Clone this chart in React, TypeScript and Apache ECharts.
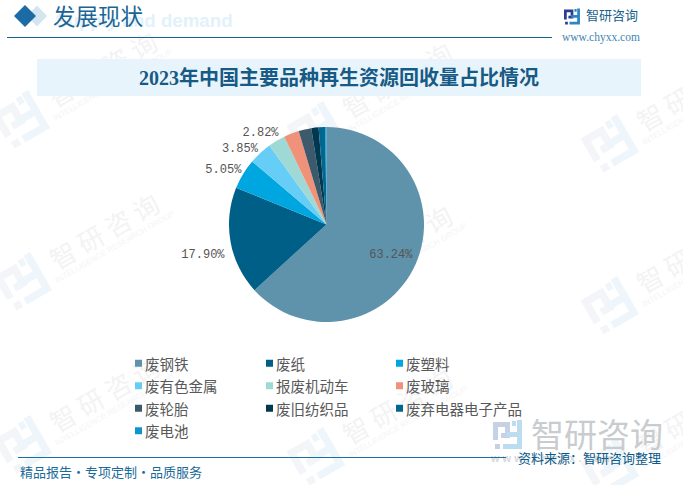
import React, { useEffect, useRef } from "react";
import * as echarts from "echarts";

const categories = ["废钢铁", "废纸", "废塑料", "废有色金属", "报废机动车", "废玻璃", "废轮胎", "废旧纺织品", "废弃电器电子产品", "废电池"];
const values = [63.24, 17.9, 5.05, 3.85, 2.82, 2.54, 2.1, 1.2, 1.1, 0.2];
const colors = ["#5f92ab", "#005f87", "#00a6df", "#66cdf7", "#9fd9d6", "#ef9279", "#3c5a6b", "#003850", "#00688f", "#0f95cc"];
const labelled = [true, true, true, true, true, false, false, false, false, false];
const legendColumns = [
  ["废钢铁", "废有色金属", "废轮胎", "废电池"],
  ["废纸", "报废机动车", "废旧纺织品"],
  ["废塑料", "废玻璃", "废弃电器电子产品"],
];
const legendLefts = [135, 266, 396];
const title = "2023年中国主要品种再生资源回收量占比情况";

echarts.graphic.registerShape("logoL", echarts.graphic.extendPath(
  "M0 2H17V18H8V13H12V7H5V20H0ZM2 24H7V29H2Z", {}));
echarts.graphic.registerShape("logoR", echarts.graphic.extendPath(
  "M24 0H29V29H10V24H24ZM13 12H24V17H13ZM19 1H23V6H19Z", {}));

function logo(x: number, y: number, s: number, cl: string, cr: string, z: number): any {
  return {
    type: "group", x, y, silent: true,
    children: [
      { type: "logoL", scaleX: s, scaleY: s, z, style: { fill: cl } },
      { type: "logoR", scaleX: s, scaleY: s, z, style: { fill: cr } },
    ],
  };
}

function watermark(cx: number, cy: number): any {
  const z = -10;
  return {
    type: "group", x: cx, y: cy, rotation: Math.PI / 6, silent: true,
    children: [
      logo(-22, -22, 1.52, "#f3f5f8", "#eef6fb", z),
      { type: "text", x: 36, y: -17, z, style: { text: "智 研 咨 询", font: "26px 'Noto Sans CJK SC'", fill: "#f3f3f4", textVerticalAlign: "top" } },
      { type: "text", x: 30, y: 12, z, style: { text: "INTELLIGENCE RESEARCH GROUP", font: "8px 'Liberation Sans'", fill: "#f4f5f6", textVerticalAlign: "top" } },
    ],
  };
}

const marks: any[] = [];
[[20, 120], [22, 282], [22, 445], [315, 131], [315, 294], [315, 457], [609, 144], [609, 306], [609, 468]].forEach(([x, y]) => marks.push(watermark(x, y)));

const labelShift: Record<number, { dx: number; dy: number }> = {
  0: { dx: 17, dy: 10 },
  1: { dx: 1, dy: 13 },
  2: { dx: 5, dy: -3 },
  3: { dx: 4, dy: -2 },
  4: { dx: 8, dy: -6 },
};

export default function App() {
  const ref = useRef<HTMLDivElement>(null);
  useEffect(() => {
    const chart = echarts.init(ref.current!, undefined, { renderer: "svg" });
    const legendBase = {
      orient: "vertical" as const, top: 356, itemWidth: 7, itemHeight: 7, itemGap: 8, icon: "rect",
      selectedMode: false, textStyle: { fontSize: 14.5, color: "#595959", fontFamily: "'Noto Sans CJK SC'", padding: [0, 0, 0, -2] },
      padding: 0,
    };
    chart.setOption({
      animation: false,
      backgroundColor: "#ffffff",
      color: colors,
      legend: legendColumns.map((data, i) => ({ ...legendBase, left: legendLefts[i], data })),
      series: [{
        type: "pie",
        center: [326.5, 224.5],
        radius: [0, 97.5],
        startAngle: 90,
        clockwise: true,
        avoidLabelOverlap: false,
        label: {
          show: true, position: "outside", fontSize: 12, color: "#555555",
          fontFamily: "'Liberation Mono'",
          formatter: (p: any) => p.value.toFixed(2) + "%",
        },
        labelLine: { show: false, length: 2, length2: 0 },
        data: categories.map((name, i) => ({
          name, value: values[i],
          label: i === 0 ? { show: true, position: "inside" } : { show: labelled[i] },
        })),
        labelLayout: (p: any) => labelShift[p.dataIndex] || {},
      }],
      graphic: [
        ...marks,
        { type: "text", x: 55, y: 11, z: 1, silent: true, style: { text: "Supply and demand", font: "bold 18.7px 'Liberation Sans'", fill: "#e3f1fb" } },
        { type: "polygon", z: 2, shape: { points: [[37, 5.5], [47, 16], [37, 26.5], [27, 16]] }, style: { fill: "#d3e5ef" } },
        { type: "polygon", z: 3, shape: { points: [[25, 5], [36, 16], [25, 27], [14, 16]] }, style: { fill: "#1a6ba6" } },
        { type: "text", x: 53, y: 4, z: 4, style: { text: "发展现状", font: "22.5px 'Noto Sans CJK SC'", fill: "#1a6595" } },
        { type: "line", z: 2, shape: { x1: 7, y1: 37.5, x2: 552, y2: 37.5 }, style: { stroke: "#1b6390", lineWidth: 1 } },
        logo(564, 8.5, 0.55, "#2a3f8f", "#2b86c5", 3),
        { type: "text", x: 586, y: 8, z: 3, style: { text: "智研咨询", font: "13px 'Noto Sans CJK SC'", fill: "#1a5f8c" } },
        { type: "text", x: 562, y: 31, z: 3, style: { text: "www.chyxx.com", font: "11.5px 'Liberation Serif'", fill: "#3f86b4" } },
        { type: "rect", z: 1, shape: { x: 37, y: 59, width: 604, height: 37 }, style: { fill: "#e8f4fb" } },
        { type: "text", x: 339, y: 78, z: 2, style: { text: title, font: "bold 20px 'Liberation Serif','Noto Sans CJK SC'", fill: "#175a85", textAlign: "center", textVerticalAlign: "middle" } },
        logo(493, 420, 1, "#c6d1e4", "#bcdcf0", 1),
        { type: "text", x: 531, y: 416, z: 1, style: { text: "智研咨询", font: "33px 'Noto Sans CJK SC'", fill: "#c9cccf" } },
        { type: "text", x: 491, y: 452, z: 1, style: { text: "w w w . c h y x x . c o m", font: "bold 11px 'Liberation Sans'", fill: "#d6d8da" } },
        { type: "line", z: 2, shape: { x1: 18, y1: 457.5, x2: 506, y2: 457.5 }, style: { stroke: "#1b6f9e", lineWidth: 1 } },
        { type: "text", x: 20, y: 465, z: 3, style: { text: "精品报告·专项定制·品质服务", font: "13px 'Noto Sans CJK SC'", fill: "#1a6a9a" } },
        { type: "text", x: 518, y: 451, z: 3, style: { text: "资料来源：智研咨询整理", font: "13px 'Noto Sans CJK SC'", fill: "#0a5a8a" } },
      ],
    });
    return () => chart.dispose();
  }, []);
  return <div ref={ref} style={{ position: "absolute", left: 0, top: 0, width: 683, height: 485 }} />;
}
